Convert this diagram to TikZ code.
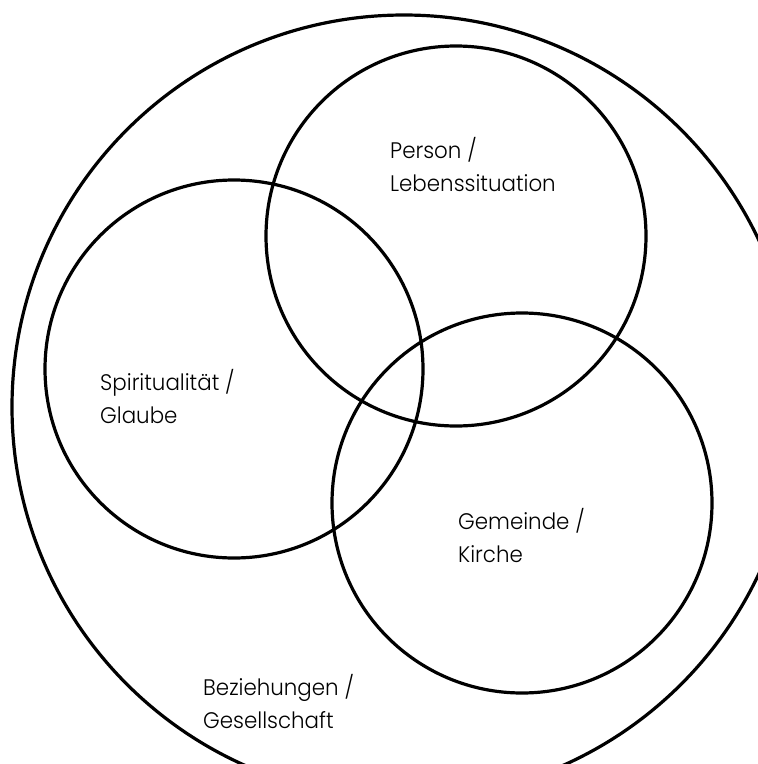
\documentclass[tikz,border=0pt]{standalone}
\usepackage{fontspec}
\setmainfont{Poppins}[UprightFont={* Light}, FakeStretch=0.95]
\begin{document}
\begin{tikzpicture}[x=1pt,y=-1pt,
  ring/.style={circle, draw=black, line width=3.2pt, minimum size=#1, inner sep=0pt},
  lbl/.style={anchor=west, align=left, font=\fontsize{22.5}{33}\selectfont, inner sep=0pt}]
\useasboundingbox (0,0) rectangle (758,764);
\clip (0,0) rectangle (758,764);
\node[ring=784pt] (outer) at (404,407) {};
\node[ring=380pt] (person) at (456,236) {};
\node[ring=378pt] (spirit) at (234,369) {};
\node[ring=380pt] (gemeinde) at (522,503) {};
\node[lbl] (tperson) at (390,165) {Person /\\Lebenssituation};
\node[lbl] (tspirit) at (100,397) {Spiritualität /\\Glaube};
\node[lbl] (tgemeinde) at (458,536) {Gemeinde /\\Kirche};
\node[lbl] (tbez) at (203,702) {Beziehungen /\\Gesellschaft};
\end{tikzpicture}
\end{document}
